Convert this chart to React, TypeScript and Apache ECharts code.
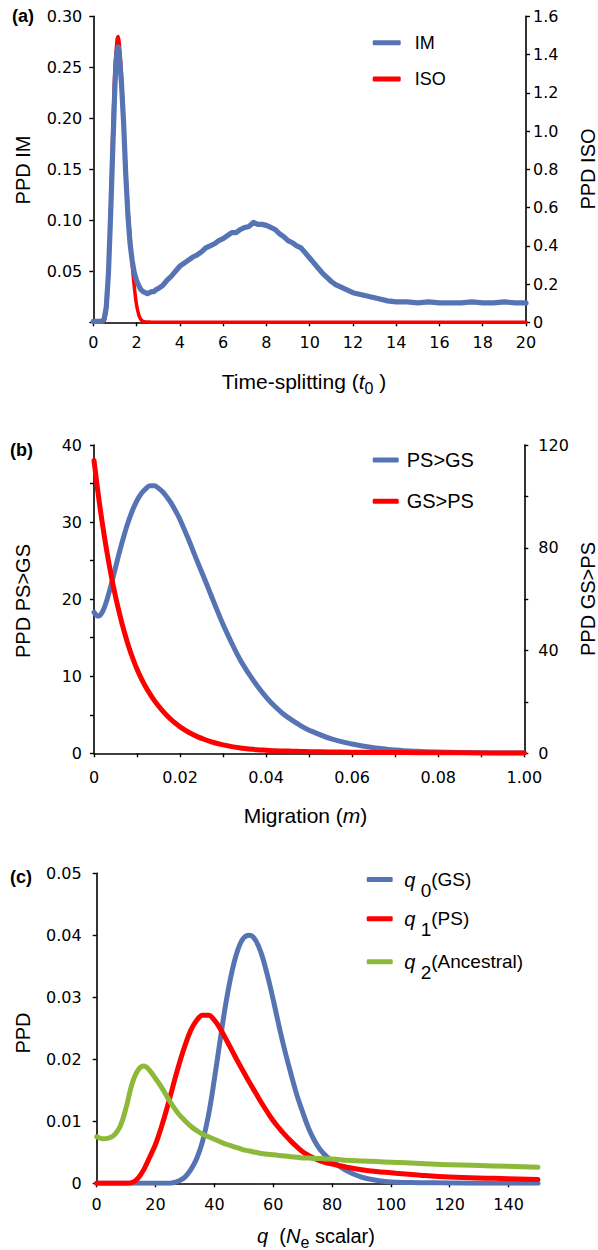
import React, { useEffect, useRef } from "react";
import * as echarts from "echarts";

// ---------- Panel (a): time-splitting ----------
const timeIM = [0, 0.2, 0.4, 0.5, 0.6, 0.7, 0.8, 0.9, 1.0, 1.05, 1.1, 1.15, 1.2, 1.3, 1.4, 1.5, 1.6, 1.7, 1.8, 1.9,
  2.0, 2.1, 2.2, 2.3, 2.4, 2.5, 2.6, 2.7, 2.8, 2.9,
  3.0, 3.2, 3.4, 3.6, 3.8, 4.0, 4.2, 4.4, 4.6, 4.8,
  5.0, 5.2, 5.4, 5.6, 5.8, 6.0, 6.2, 6.4, 6.6, 6.8,
  7.0, 7.2, 7.4, 7.6, 7.8, 8.0, 8.2, 8.4, 8.6, 8.8,
  9.0, 9.2, 9.4, 9.6, 9.8, 10.0, 10.2, 10.4, 10.6, 10.8,
  11.0, 11.2, 11.4, 11.6, 11.8, 12.0, 12.4, 12.8, 13.2, 13.6,
  14.0, 14.5, 15.0, 15.5, 16.0, 16.5, 17.0, 17.5, 18.0, 18.5,
  19.0, 19.5, 20.0];
const ppdIM = [0.001, 0.001, 0.001, 0.003, 0.015, 0.048, 0.105, 0.17, 0.232, 0.255, 0.266, 0.27, 0.262, 0.235, 0.196, 0.145, 0.105, 0.077, 0.06, 0.048,
  0.041, 0.036, 0.032, 0.03, 0.029, 0.028, 0.029, 0.03, 0.03, 0.032,
  0.033, 0.036, 0.041, 0.045, 0.05, 0.055, 0.058, 0.061, 0.064, 0.066,
  0.069, 0.073, 0.075, 0.077, 0.08, 0.082, 0.085, 0.088, 0.088, 0.091,
  0.093, 0.094, 0.098, 0.096, 0.096, 0.095, 0.093, 0.091, 0.087, 0.084,
  0.08, 0.078, 0.075, 0.073, 0.068, 0.063, 0.058, 0.053, 0.048, 0.044,
  0.04, 0.037, 0.035, 0.033, 0.031, 0.029, 0.027, 0.025, 0.023, 0.021,
  0.02, 0.02, 0.019, 0.02, 0.019, 0.019, 0.019, 0.02, 0.019, 0.019,
  0.02, 0.019, 0.019];
const timeISO = [0.45, 0.5, 0.6, 0.7, 0.8, 0.9, 1.0, 1.1, 1.15, 1.2, 1.3, 1.4, 1.5, 1.6, 1.7, 1.8, 1.9, 2.0, 2.1, 2.2, 2.3, 2.4, 2.6, 2.8, 3.0, 20];
const ppdISO = [0, 0.005, 0.06, 0.25, 0.6, 1.0, 1.32, 1.48, 1.495, 1.46, 1.3, 1.05, 0.8, 0.6, 0.45, 0.3, 0.18, 0.09, 0.04, 0.015, 0.005, 0.002, 0.001, 0, 0, 0];

// ---------- Panel (b): migration ----------
const migration = [0, 0.001, 0.002, 0.003, 0.004, 0.005, 0.006, 0.007, 0.008, 0.009, 0.01, 0.011, 0.012, 0.013, 0.014, 0.015, 0.016, 0.017, 0.018, 0.019, 0.02,
  0.022, 0.024, 0.026, 0.028, 0.03, 0.032, 0.034, 0.036, 0.038, 0.04,
  0.042, 0.044, 0.046, 0.048, 0.05,
  0.055, 0.06, 0.065, 0.07, 0.075, 0.08, 0.09, 0.1];
const ppdPSGS = [18.3, 17.8, 18.4, 19.9, 21.9, 24.1, 26.3, 28.3, 30.1, 31.6, 32.8, 33.7, 34.3, 34.7, 34.7, 34.4, 33.9, 33.2, 32.4, 31.4, 30.3,
  27.7, 24.9, 22.2, 19.4, 16.7, 14.3, 12.1, 10.3, 8.7, 7.3,
  6.1, 5.1, 4.3, 3.6, 3.0,
  1.9, 1.2, 0.72, 0.43, 0.26, 0.16, 0.06, 0.025];
const ppdGSPS = [114, 100.6, 88.8, 78.4, 69.2, 61.0, 53.9, 47.5, 41.9, 37.0, 32.7, 29.1, 25.9, 23.1, 20.6, 18.4, 16.4, 14.6, 13.0, 11.6, 10.3,
  8.2, 6.5, 5.2, 4.1, 3.3, 2.6, 2.1, 1.7, 1.4, 1.2,
  1.0, 0.9, 0.8, 0.72, 0.65,
  0.52, 0.42, 0.35, 0.3, 0.26, 0.22, 0.16, 0.12];
const migrationTickLabels = ["0", "", "0.02", "", "0.04", "", "0.06", "", "0.08", "", "1.00"];

// ---------- Panel (c): q (Ne scalar) ----------
const qValues = [0, 2, 4, 6, 8, 10, 12, 14, 16, 18,
  20, 22, 24, 26, 28, 30, 32, 34, 36, 38,
  40, 42, 44, 46, 48, 50, 52, 54, 56, 58,
  60, 62, 64, 66, 68, 70, 72, 74, 76, 78,
  80, 85, 90, 95, 100, 110, 120, 135, 150];
const ppdQ0 = [0, 0, 0, 0, 0, 0, 0, 0, 0, 0,
  0, 0, 0, 0.0001, 0.0004, 0.001, 0.0022, 0.004, 0.0068, 0.011,
  0.0168, 0.0232, 0.0293, 0.0342, 0.0377, 0.0396, 0.04, 0.0392, 0.037, 0.0336,
  0.0296, 0.0253, 0.0213, 0.0177, 0.0143, 0.0115, 0.0089, 0.0069, 0.0054, 0.0044,
  0.0036, 0.002, 0.001, 0.0005, 0.0002, 0.0001, 0.00005, 0, 0];
const ppdQ1 = [0, 0, 0, 0, 0, 0, 0.0001, 0.0008, 0.0022, 0.0042,
  0.0063, 0.0091, 0.0123, 0.0158, 0.0192, 0.0222, 0.0247, 0.0263, 0.0271, 0.0271,
  0.0263, 0.0249, 0.0232, 0.0214, 0.0196, 0.0179, 0.0162, 0.0146, 0.013, 0.0115,
  0.0101, 0.0089, 0.0078, 0.0068, 0.0059, 0.0051, 0.0045, 0.004, 0.0036, 0.0033,
  0.0031, 0.0026, 0.0022, 0.0019, 0.0017, 0.0013, 0.001, 0.0008, 0.0006];
const ppdQ2 = [0.0075, 0.0072, 0.0073, 0.0078, 0.0092, 0.0122, 0.016, 0.0182, 0.0189, 0.0182,
  0.0169, 0.0155, 0.0139, 0.0124, 0.0111, 0.0101, 0.0092, 0.0085, 0.0079, 0.0075,
  0.0071, 0.0067, 0.0063, 0.006, 0.0057, 0.0054, 0.0052, 0.005, 0.0048, 0.0047,
  0.0046, 0.0045, 0.0044, 0.0043, 0.0042, 0.0041, 0.0041, 0.004, 0.004, 0.0039,
  0.0039, 0.0037, 0.0036, 0.0035, 0.0034, 0.0032, 0.003, 0.0028, 0.0026];
const qTickValues = [0, 20, 40, 60, 80, 100, 120, 140];
const qSubscripts = ["0", "1", "2"];
const qGroups = ["(GS)", "(PS)", "(Ancestral)"];

const BLUE = "#5674B4";
const RED = "#FF0000";
const GREEN = "#8DB93A";
const TICK_FONT = "DejaVu Sans";
const TITLE_FONT = "Liberation Sans";

const zip = (xs: number[], ys: number[]) => xs.map((x, i) => [x, ys[i]]);

const axisLineStyle = { show: true, onZero: false, lineStyle: { color: "#000", width: 1.6 } };
const axisTickStyle = (len = 4) => ({ show: true, length: len, inside: false, lineStyle: { color: "#000", width: 1.4 } });
const labelBase = { color: "#000", fontFamily: TICK_FONT, fontSize: 16 };

function lineSeries(name: string, x: number, y: number, data: number[][], color: string, width: number, smooth: number | boolean) {
  return {
    name, type: "line", xAxisIndex: x, yAxisIndex: y, data,
    showSymbol: false, symbol: "none", smooth,
    lineStyle: { color, width, cap: "round", join: "round" }, itemStyle: { color },
  };
}

function buildOption(): any {
  const qNames = qSubscripts.map((s, i) => `q${s}${qGroups[i]}`);
  const titleText = (x: number, y: number, text: string, size: number, rich: any = undefined, rotation = 0, extra: any = {}) => ({
    type: "text",
    x,
    y,
    rotation,
    silent: true,
    style: {
      text,
      fill: "#000",
      fontFamily: TITLE_FONT,
      fontSize: size,
      align: "center",
      verticalAlign: "middle",
      rich,
      ...extra,
    },
  });
  const subRich = (main: number, sub: number, drop: number) => ({
    it: { fontStyle: "italic", fontSize: main, fontFamily: TITLE_FONT, fill: "#000" },
    sub: { fontSize: sub, fontFamily: TITLE_FONT, fill: "#000", lineHeight: main + 2, padding: [drop * 2, 0, 0, 0] },
  });
  const qLegendTops = [859, 898.3, 941.3];
  const qLegends = qNames.map((n, i) => ({
    data: [n], orient: "vertical", left: 366.7, top: qLegendTops[i], padding: 0,
    icon: "roundRect", itemWidth: 26, itemHeight: 5,
    formatter: () => `{q|q} {sub|${qSubscripts[i]}}{grp|${qGroups[i]}}`,
    textStyle: {
      fontFamily: TITLE_FONT, fontSize: 19, lineHeight: 22, color: "#000", padding: [0, 0, 0, 6.6],
      rich: {
        q: { fontFamily: TITLE_FONT, fontSize: 20, fontStyle: "italic", color: "#000" },
        sub: { fontFamily: TITLE_FONT, fontSize: 19, color: "#000", lineHeight: 22, padding: [22, 0, 0, 0] },
        grp: { fontFamily: TITLE_FONT, fontSize: 19, color: "#000" },
      },
    },
  }));

  return {
    animation: false,
    backgroundColor: "#fff",
    textStyle: { fontFamily: TICK_FONT },
    grid: [
      { left: 93.3, top: 16.3, width: 432.7, height: 306 },
      { left: 94, top: 445, width: 430.3, height: 308.3 },
      { left: 96.7, top: 873.3, width: 441.3, height: 310 },
    ],
    xAxis: [
      {
        type: "value", gridIndex: 0, min: 0, max: 20, interval: 2,
        axisLine: axisLineStyle, axisTick: axisTickStyle(), splitLine: { show: false },
        axisLabel: { ...labelBase, margin: 12 },
      },
      {
        type: "value", gridIndex: 1, min: 0, max: 0.1, interval: 0.01,
        axisLine: axisLineStyle, axisTick: axisTickStyle(), splitLine: { show: false },
        axisLabel: {
          ...labelBase, margin: 16,
          formatter: (v: number) => migrationTickLabels[Math.round(v * 100)] ?? "",
        },
      },
      {
        type: "value", gridIndex: 2, min: 0, max: 150, interval: 20,
        axisLine: axisLineStyle,
        axisTick: { ...axisTickStyle(), customValues: qTickValues },
        splitLine: { show: false },
        axisLabel: { ...labelBase, margin: 13, customValues: qTickValues, formatter: (v: number) => (v > 140 ? "" : String(v)) },
      },
    ],
    yAxis: [
      {
        type: "value", gridIndex: 0, min: 0, max: 0.3, interval: 0.05,
        axisLine: axisLineStyle, axisTick: axisTickStyle(), splitLine: { show: false },
        axisLabel: { ...labelBase, margin: 11, formatter: (v: number) => (v === 0 ? "" : v.toFixed(2)) },
      },
      {
        type: "value", gridIndex: 0, position: "right", min: 0, max: 1.6, interval: 0.2,
        axisLine: axisLineStyle, axisTick: axisTickStyle(), splitLine: { show: false },
        axisLabel: { ...labelBase, margin: 7, formatter: (v: number) => (v === 0 ? "0" : v.toFixed(1)) },
      },
      {
        type: "value", gridIndex: 1, min: 0, max: 40, interval: 5,
        axisLine: axisLineStyle, axisTick: axisTickStyle(), splitLine: { show: false },
        axisLabel: { ...labelBase, margin: 12, formatter: (v: number) => (v % 10 === 0 ? String(v) : "") },
      },
      {
        type: "value", gridIndex: 1, position: "right", min: 0, max: 120, interval: 20,
        axisLine: axisLineStyle, axisTick: axisTickStyle(), splitLine: { show: false },
        axisLabel: { ...labelBase, margin: 14, formatter: (v: number) => (v % 40 === 0 ? String(v) : "") },
      },
      {
        type: "value", gridIndex: 2, min: 0, max: 0.05, interval: 0.01,
        axisLine: axisLineStyle, axisTick: axisTickStyle(), splitLine: { show: false },
        axisLabel: { ...labelBase, margin: 15, formatter: (v: number) => (v === 0 ? "0" : v.toFixed(2)) },
      },
    ],
    legend: [
      {
        data: ["IM", "ISO"], orient: "vertical", left: 372.7, top: 32.7, padding: 0,
        icon: "roundRect", itemWidth: 28, itemHeight: 5, itemGap: 16.3,
        textStyle: { fontFamily: TITLE_FONT, fontSize: 18, lineHeight: 20, color: "#000", padding: [0, 0, 0, 9] },
      },
      {
        data: ["PS>GS", "GS>PS"], orient: "vertical", left: 372.7, top: 449, padding: 0,
        icon: "roundRect", itemWidth: 26, itemHeight: 5, itemGap: 19.3,
        textStyle: { fontFamily: TITLE_FONT, fontSize: 20, lineHeight: 22, color: "#000", padding: [0, 0, 0, 3] },
      },
      ...qLegends,
    ],
    series: [
      lineSeries("ISO", 0, 1, zip(timeISO, ppdISO), RED, 3.5, 0.3),
      lineSeries("IM", 0, 0, zip(timeIM, ppdIM), BLUE, 5.2, false),
      lineSeries("PS>GS", 1, 2, zip(migration, ppdPSGS), BLUE, 5, 0.4),
      lineSeries("GS>PS", 1, 3, zip(migration, ppdGSPS), RED, 5, 0.4),
      lineSeries(qNames[0], 2, 4, zip(qValues, ppdQ0), BLUE, 5, 0.4),
      lineSeries(qNames[1], 2, 4, zip(qValues, ppdQ1), RED, 5, 0.4),
      lineSeries(qNames[2], 2, 4, zip(qValues, ppdQ2), GREEN, 5, 0.4),
    ],
    graphic: [
      // panel letters
      titleText(12, 16, "(a)", 18, undefined, 0, { align: "left", fontWeight: "bold" }),
      titleText(10, 450, "(b)", 18, undefined, 0, { align: "left", fontWeight: "bold" }),
      titleText(10, 877, "(c)", 18, undefined, 0, { align: "left", fontWeight: "bold" }),
      // x axis titles
      titleText(304, 381, "Time-splitting ({it|t}{sub|0} )", 21, subRich(21, 16, 7), 0, { lineHeight: 23 }),
      titleText(305.5, 815, "Migration ({it|m})", 21, subRich(21, 16, 7), 0, { lineHeight: 23 }),
      titleText(316, 1236, "{it|q}  ({it|N}{sub|e} scalar)", 20, subRich(20, 16, 6), 0, { lineHeight: 22 }),
      // y axis titles
      titleText(23, 170, "PPD IM", 20, undefined, Math.PI / 2),
      titleText(588, 169, "PPD ISO", 20, undefined, Math.PI / 2),
      titleText(23, 601, "PPD PS>GS", 20, undefined, Math.PI / 2),
      titleText(588, 599, "PPD GS>PS", 20, undefined, Math.PI / 2),
      titleText(23, 1033, "PPD", 20, undefined, Math.PI / 2),
    ],
  };
}

export default function App() {
  const ref = useRef<HTMLDivElement>(null);
  useEffect(() => {
    if (!ref.current) return;
    const chart = echarts.init(ref.current, undefined, { renderer: "svg" });
    chart.setOption(buildOption());
    return () => chart.dispose();
  }, []);
  return (
    <div
      ref={ref}
      style={{ position: "absolute", left: 0, top: 0, width: 598, height: 1250, background: "#fff" }}
    />
  );
}
